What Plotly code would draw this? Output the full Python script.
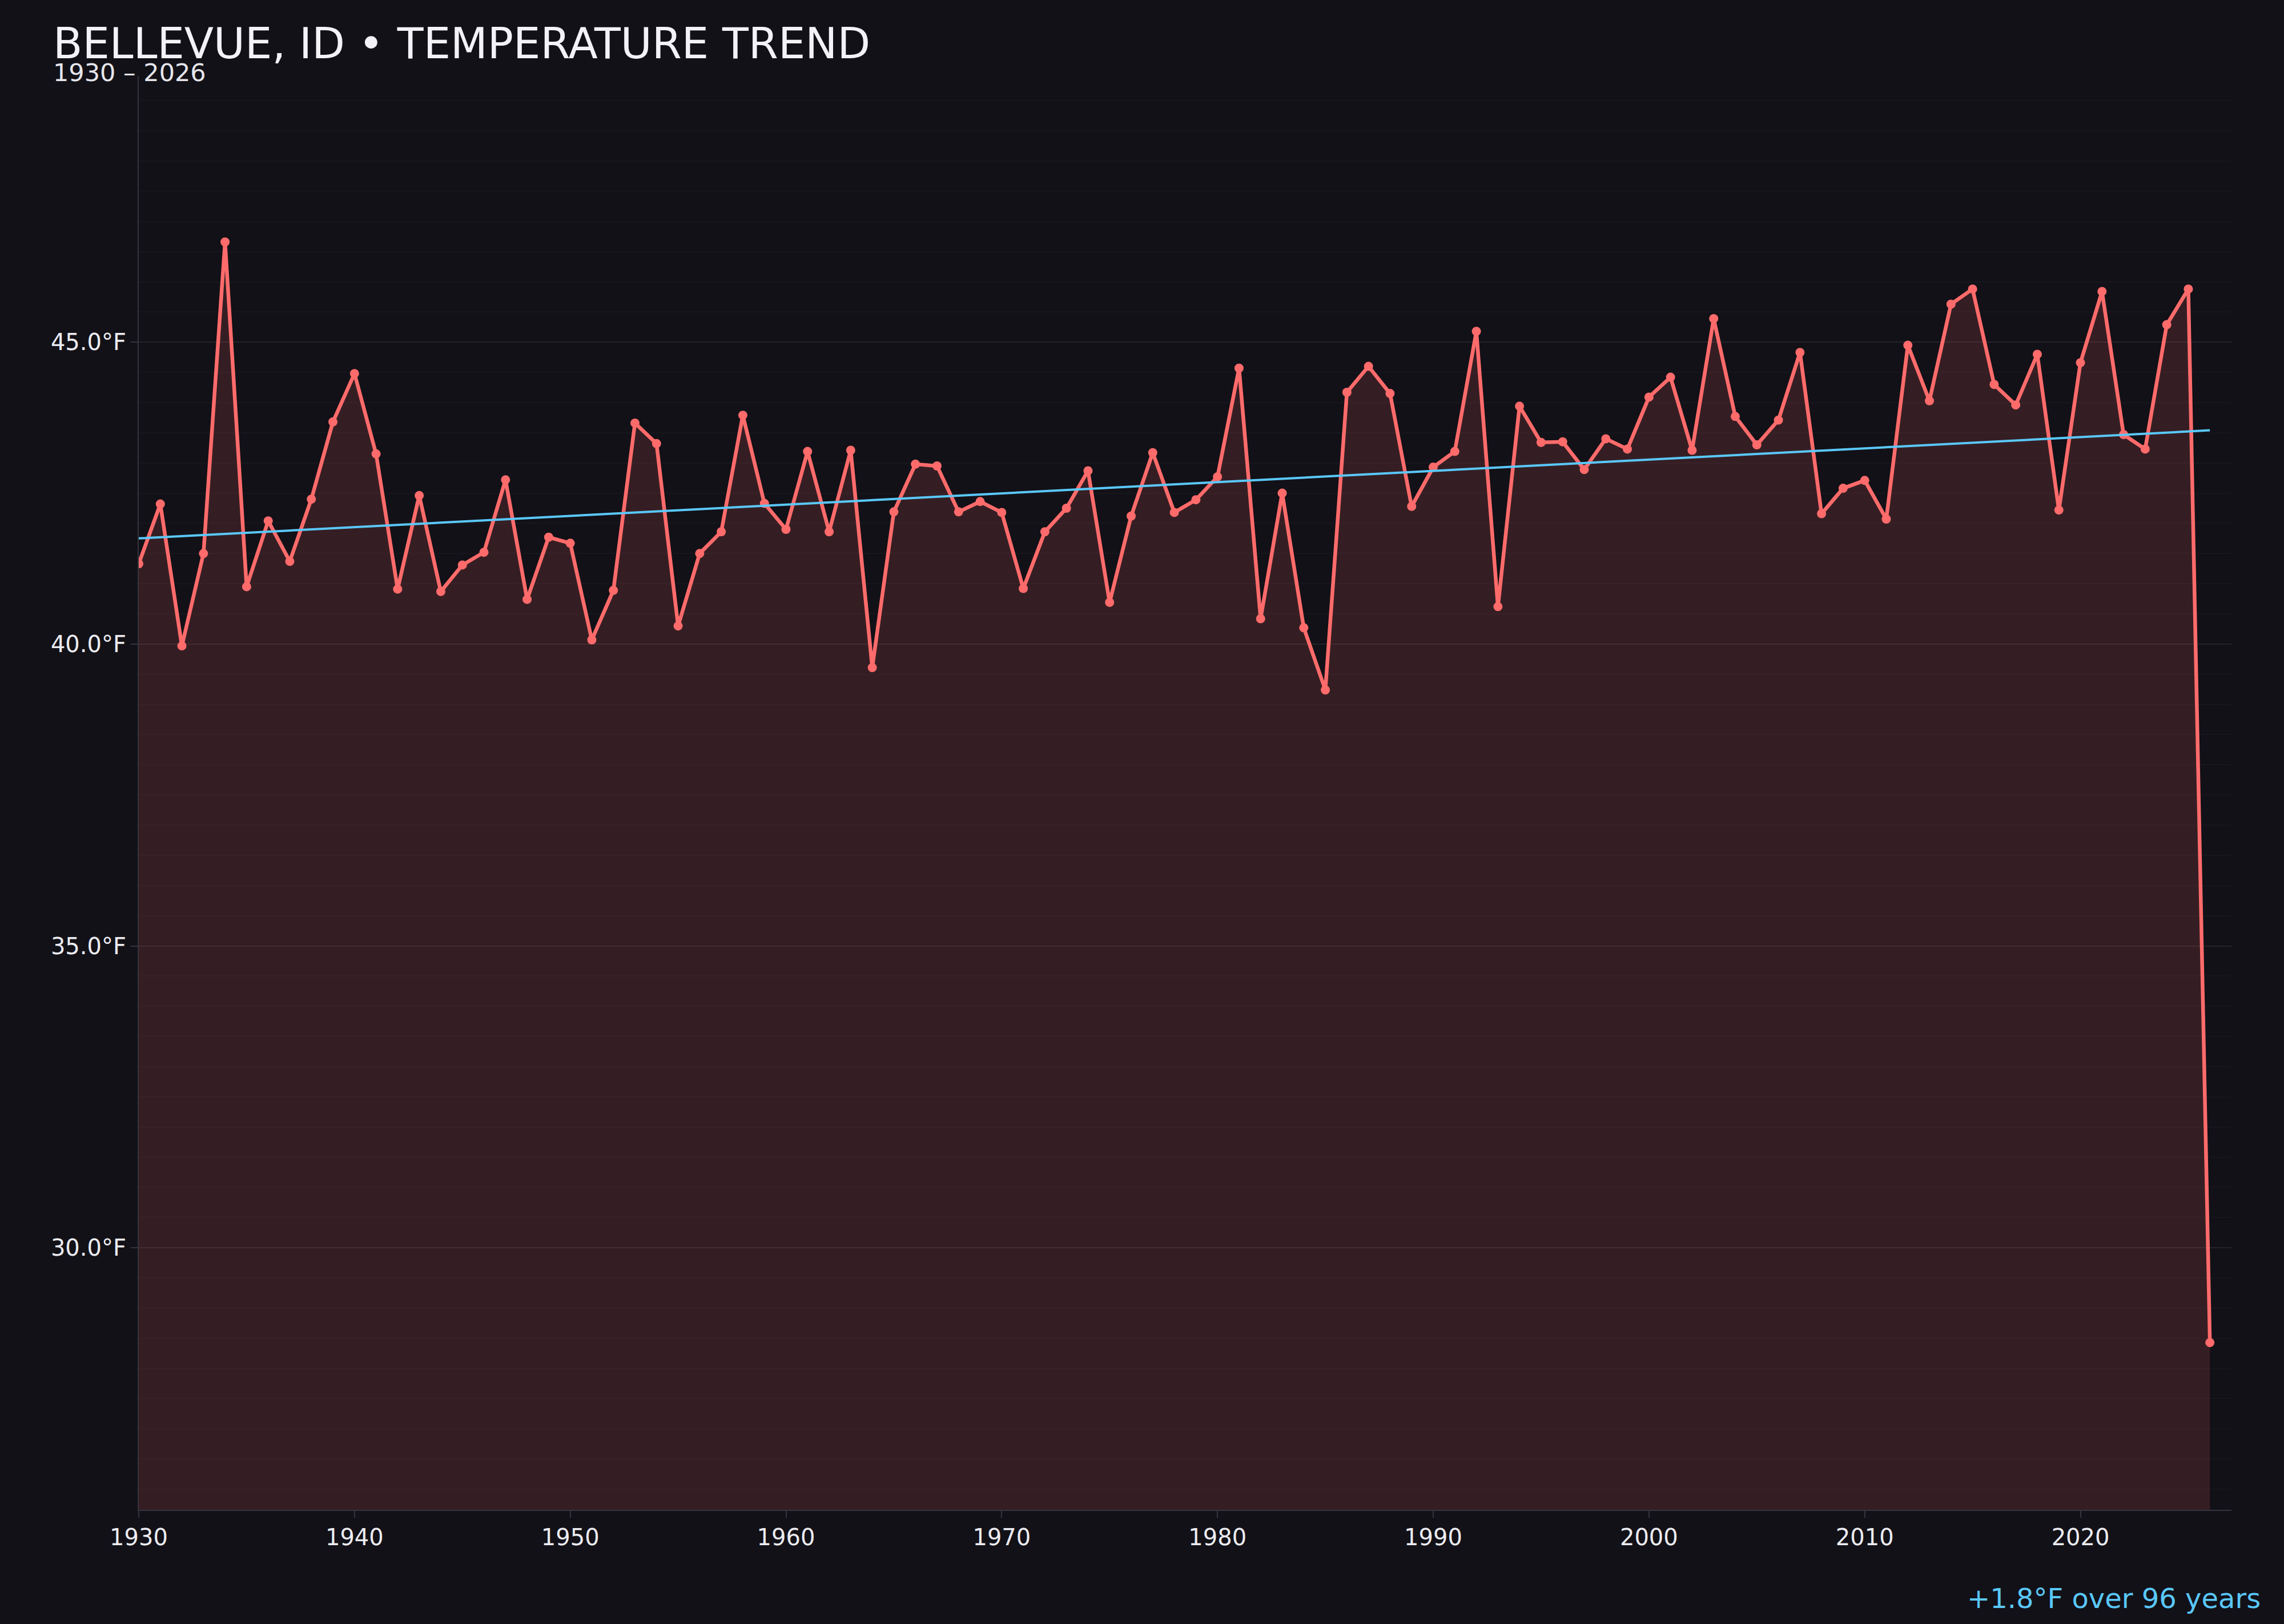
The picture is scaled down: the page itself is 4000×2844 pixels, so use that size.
import plotly.graph_objects as go

# annual mean temperature, Bellevue ID
YEARS = list(range(1930, 2027))
TEMPS_F = [
    41.33, 42.32, 39.97, 41.50, 46.66, 40.95, 42.04, 41.37, 42.40, 43.68,
    44.48, 43.15, 40.91, 42.46, 40.87, 41.31, 41.52, 42.72, 40.74, 41.77,
    41.67, 40.07, 40.89, 43.66, 43.32, 40.30, 41.50, 41.86, 43.79, 42.33,
    41.90, 43.19, 41.86, 43.21, 39.61, 42.19, 42.98, 42.95, 42.19, 42.36,
    42.18, 40.92, 41.86, 42.25, 42.87, 40.69, 42.12, 43.17, 42.18, 42.39,
    42.77, 44.57, 40.42, 42.50, 40.27, 39.24, 44.17, 44.60, 44.15, 42.28,
    42.93, 43.19, 45.18, 40.62, 43.94, 43.34, 43.35, 42.89, 43.40, 43.23,
    44.09, 44.42, 43.21, 45.39, 43.77, 43.30, 43.71, 44.83, 42.16, 42.58,
    42.71, 42.07, 44.95, 44.03, 45.63, 45.88, 44.30, 43.96, 44.80, 42.22,
    44.66, 45.84, 43.47, 43.23, 45.29, 45.88, 28.43,
]

# linear trend end points
TREND_YEARS = [1930, 2026]
TREND_F = [41.75, 43.54]

X_TICKS = list(range(1930, 2030, 10))
Y_TICKS = [30, 35, 40, 45]
Y_TICK_TEXT = [f"{v:.1f}°F" for v in Y_TICKS]

BG = "#121117"
RED = "#FF6B6B"
BLUE = "#5AC8FA"
TEXT = "#ECECF2"
AXIS = "#34343E"
FONT = "DejaVu Sans"

fig = go.Figure()

fig.add_trace(
    go.Scatter(
        x=YEARS,
        y=TEMPS_F,
        mode="lines+markers",
        line=dict(color=RED, width=6.5),
        marker=dict(color=RED, size=16),
        fill="tozeroy",
        fillcolor="rgba(255,107,107,0.15)",
        hovertemplate="%{x}: %{y:.1f}°F<extra></extra>",
        showlegend=False,
    )
)

fig.add_trace(
    go.Scatter(
        x=TREND_YEARS,
        y=TREND_F,
        mode="lines",
        line=dict(color=BLUE, width=4),
        hoverinfo="skip",
        showlegend=False,
    )
)

fig.update_layout(
    paper_bgcolor=BG,
    plot_bgcolor=BG,
    font=dict(family=FONT, color=TEXT, size=40),
    margin=dict(l=243, r=92, t=133, b=200),
    showlegend=False,
    annotations=[
        dict(
            text="BELLEVUE, ID • TEMPERATURE TREND",
            xref="paper", yref="paper",
            x=-0.0415, y=1.0045,
            xanchor="left", yanchor="bottom",
            showarrow=False,
            font=dict(size=75, color="#F2F2F7"),
        ),
        dict(
            text="1930 – 2026",
            xref="paper", yref="paper",
            x=-0.0415, y=0.9915,
            xanchor="left", yanchor="bottom",
            showarrow=False,
            font=dict(size=43, color="#E6E6EC"),
        ),
        dict(
            text="+1.8°F over 96 years",
            xref="paper", yref="paper",
            x=1.0145, y=-0.0735,
            xanchor="right", yanchor="bottom",
            showarrow=False,
            font=dict(size=48, color=BLUE),
        ),
    ],
)

fig.update_xaxes(
    range=[1930, 2027],
    tickvals=X_TICKS,
    showgrid=False,
    zeroline=False,
    showline=True,
    linecolor=AXIS,
    linewidth=2,
    ticks="outside",
    ticklen=12,
    tickwidth=2,
    tickcolor=AXIS,
    tickfont=dict(size=40, color=TEXT),
)

fig.update_yaxes(
    range=[25.66, 49.41],
    tickvals=Y_TICKS,
    ticktext=Y_TICK_TEXT,
    showgrid=True,
    gridcolor="rgba(255,255,255,0.06)",
    gridwidth=2,
    minor=dict(dtick=0.5, showgrid=True, gridcolor="rgba(255,255,255,0.025)", gridwidth=1.5),
    zeroline=False,
    showline=True,
    linecolor=AXIS,
    linewidth=2,
    ticks="outside",
    ticklen=12,
    tickwidth=2,
    tickcolor=AXIS,
    tickfont=dict(size=40, color=TEXT),
)

# drop the default page margin so the figure fills the window
FILL_PAGE_JS = (
    "document.body.style.margin='0';"
    "document.body.style.background='" + BG + "';"
    "Plotly.Plots.resize(document.getElementById('{plot_id}'));"
)

fig.write_html(
    "out.html",
    config={"displayModeBar": False},
    post_script=FILL_PAGE_JS,
)
